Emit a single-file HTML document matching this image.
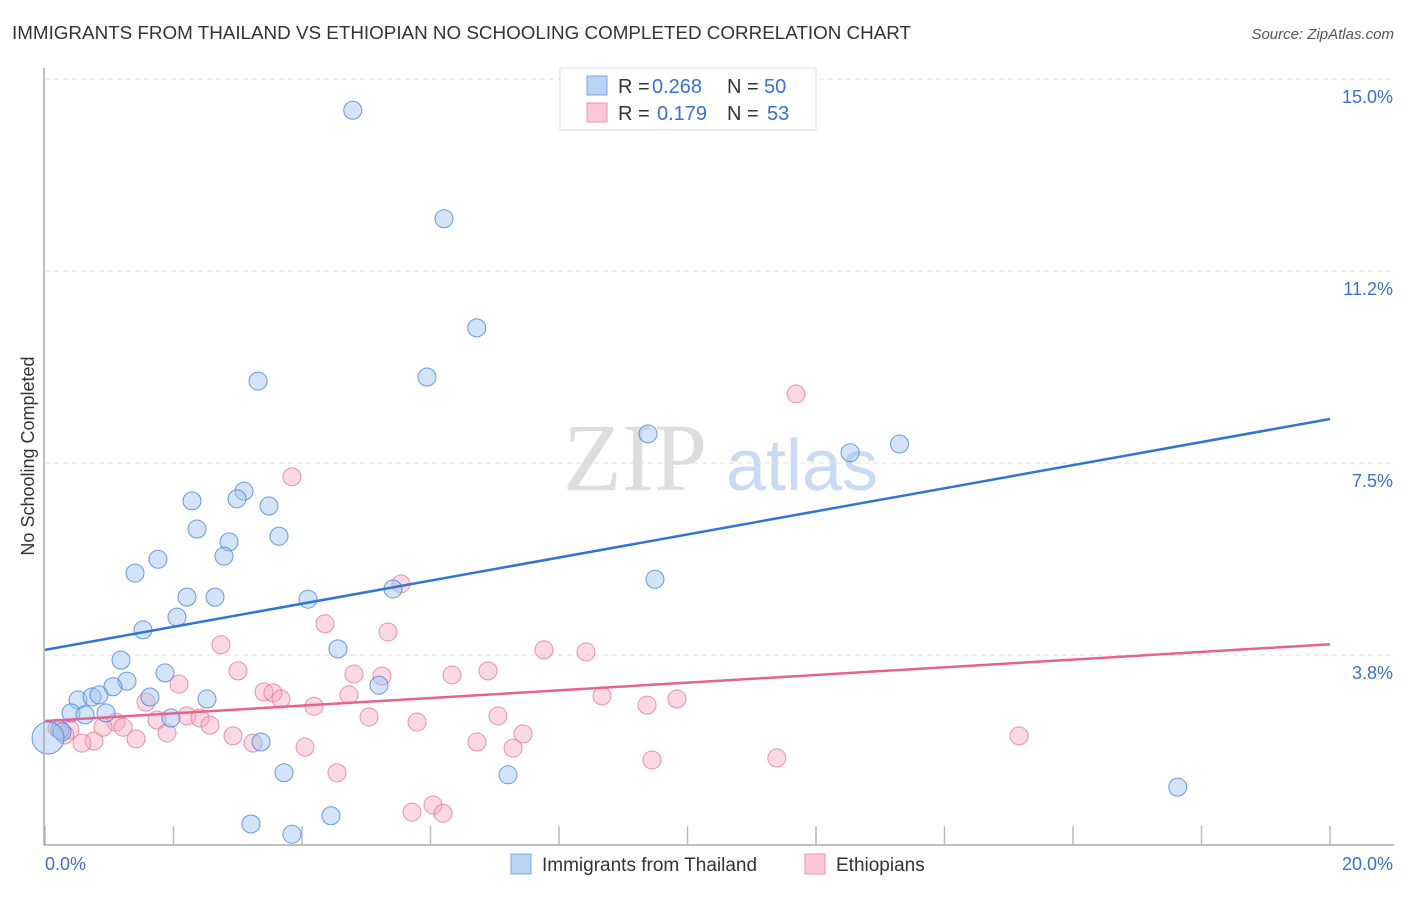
<!DOCTYPE html>
<html><head><meta charset="utf-8"><style>
body{margin:0;background:#fff;font-family:"Liberation Sans",sans-serif}
</style></head><body>
<svg width="1406" height="892" xmlns="http://www.w3.org/2000/svg" id="c">
<text x="12" y="39" font-size="18" fill="#333" textLength="899" lengthAdjust="spacingAndGlyphs">IMMIGRANTS FROM THAILAND VS ETHIOPIAN NO SCHOOLING COMPLETED CORRELATION CHART</text>
<text x="1394" y="39" font-size="15" fill="#555" font-style="italic" text-anchor="end">Source: ZipAtlas.com</text>
<text x="635" y="490" font-size="96" fill="#ddd" font-family="Liberation Serif" text-anchor="middle">ZIP</text>
<text x="802" y="490" font-size="72" fill="#c9daf2" text-anchor="middle">atlas</text>
<text transform="translate(34,456) rotate(-90)" font-size="18" fill="#333" text-anchor="middle">No Schooling Completed</text>
<g id="grid"></g><g id="pts"></g><g id="lines"></g>
<line x1="44" y1="68" x2="44" y2="845" stroke="#aaa" stroke-width="1.5"/>
<line x1="44" y1="845" x2="1394" y2="845" stroke="#aaa" stroke-width="1.5"/>
<text x="45" y="870" font-size="18" fill="#3b6fd4">0.0%</text>
<text x="1393" y="870" font-size="18" fill="#3b6fd4" text-anchor="end">20.0%</text>
<g>
<rect x="560" y="68" width="256" height="62" fill="#fff" stroke="#ddd"/>
<rect x="587" y="76" width="20" height="19" fill="#b9d3f5" stroke="#7ba7e6"/>
<rect x="587" y="103" width="20" height="19" fill="#fac8d7" stroke="#ee93b0"/>
<text x="618" y="93" font-size="20" fill="#333">R =</text>
<text x="652" y="93" font-size="20" fill="#3b6fd4">0.268</text>
<text x="727" y="93" font-size="20" fill="#333">N =</text>
<text x="764" y="93" font-size="20" fill="#3b6fd4">50</text>
<text x="618" y="120" font-size="20" fill="#333">R =</text>
<text x="657" y="120" font-size="20" fill="#3b6fd4">0.179</text>
<text x="727" y="120" font-size="20" fill="#333">N =</text>
<text x="767" y="120" font-size="20" fill="#3b6fd4">53</text>
</g>
<g>
<rect x="511" y="854" width="20" height="20" fill="#b9d3f5" stroke="#7ba7e6"/>
<text x="542" y="871" font-size="19" fill="#333">Immigrants from Thailand</text>
<rect x="805" y="854" width="20" height="20" fill="#fac8d7" stroke="#ee93b0"/>
<text x="836" y="871" font-size="19" fill="#333">Ethiopians</text>
</g>
</svg>
<script>
const yTicks=[3.75,7.5,11.25,15];
const yTickLabels=["3.8%","7.5%","11.2%","15.0%"];
const xTicks=[0,2,4,6,8,10,12,14,16,18,20];
const blueX=[4.79,6.21,6.72,3.316,5.945,9.385,12.53,13.30,2.288,3.097,2.988,3.486,2.366,2.864,3.642,2.786,1.758,1.401,9.494,2.210,2.646,4.093,5.416,2.054,1.525,4.560,1.183,1.868,1.276,1.058,5.198,1.634,0.514,0.732,0.84,2.521,0.405,0.623,0.949,1.961,0.233,0.265,0.047,3.362,3.72,7.206,17.63,4.451,3.206,3.844];
const blueY=[14.39,12.27,10.14,9.10,9.18,8.07,7.70,7.87,6.76,6.95,6.80,6.66,6.21,5.96,6.07,5.68,5.62,5.35,5.23,4.88,4.88,4.84,5.04,4.49,4.24,3.87,3.65,3.40,3.24,3.13,3.16,2.93,2.87,2.93,2.97,2.89,2.62,2.58,2.62,2.52,2.29,2.25,2.13,2.05,1.45,1.41,1.17,0.61,0.45,0.25];
const pinkX=[3.844,11.69,5.54,4.358,5.338,2.739,7.766,8.42,3.004,4.809,5.245,6.335,6.895,2.086,3.408,3.548,3.673,4.731,8.669,9.836,1.572,4.187,9.37,2.21,2.412,5.043,7.05,5.79,1.743,1.105,1.214,0.903,2.568,0.187,0.389,1.899,2.926,7.44,15.16,1.416,0.763,0.576,3.237,6.724,4.047,7.284,9.447,11.39,4.545,6.039,5.712,6.195,0.311];
const pinkY=[7.23,8.85,5.14,4.36,4.20,3.95,3.85,3.81,3.44,3.38,3.34,3.36,3.44,3.18,3.03,3.01,2.89,2.97,2.95,2.89,2.83,2.75,2.77,2.56,2.52,2.54,2.56,2.44,2.48,2.44,2.34,2.34,2.38,2.32,2.29,2.23,2.17,2.21,2.17,2.11,2.07,2.03,2.03,2.05,1.95,1.93,1.70,1.74,1.45,0.82,0.68,0.66,2.19];
const blueTrend=[0,3.85,20,8.36];
const pinkTrend=[0,2.46,20,3.96];
const sx=v=>45+v/20*1285, sy=v=>847-v/3.75*192;
const NS="http://www.w3.org/2000/svg";
const mk=(p,t,a)=>{const e=document.createElementNS(NS,t);for(const k in a)e.setAttribute(k,a[k]);document.getElementById(p).appendChild(e);return e;};
yTicks.forEach((t,i)=>{
 const l=mk('grid','line',{x1:45,x2:1394,y1:sy(t),y2:sy(t),stroke:'#ddd','stroke-dasharray':'5,4'});
 
 
 const tx=mk('grid','text',{x:1393,y:sy(t)+24,'font-size':18,fill:'#3b6fd4','text-anchor':'end'});
 tx.textContent=yTickLabels[i];
 
 
});
xTicks.forEach(t=>{
 const l=mk('grid','line',{x1:sx(t),x2:sx(t),y1:826,y2:845,stroke:'#bbb','stroke-width':1.5});
 
 
});
pinkX.forEach((x,i)=>{
 const c=mk('pts','circle',{cx:sx(x),cy:sy(pinkY[i]),r:9,fill:'rgba(246,170,196,0.45)',stroke:'rgba(230,120,155,0.8)','stroke-width':1});
 
 
});
blueX.forEach((x,i)=>{
 const big=(i===42);
 const c=mk('pts','circle',{cx:sx(x),cy:sy(blueY[i]),r:big?16:9,fill:'rgba(160,196,240,0.45)',stroke:'rgba(70,130,215,0.8)','stroke-width':1});
 
 
});
const b=mk('lines','line',{x1:sx(blueTrend[0]),y1:sy(blueTrend[1]),x2:sx(blueTrend[2]),y2:sy(blueTrend[3]),stroke:'#2f74d6','stroke-width':2.5});


const p=mk('lines','line',{x1:sx(pinkTrend[0]),y1:sy(pinkTrend[1]),x2:sx(pinkTrend[2]),y2:sy(pinkTrend[3]),stroke:'#e6628f','stroke-width':2.5});


</script>
</body></html>
